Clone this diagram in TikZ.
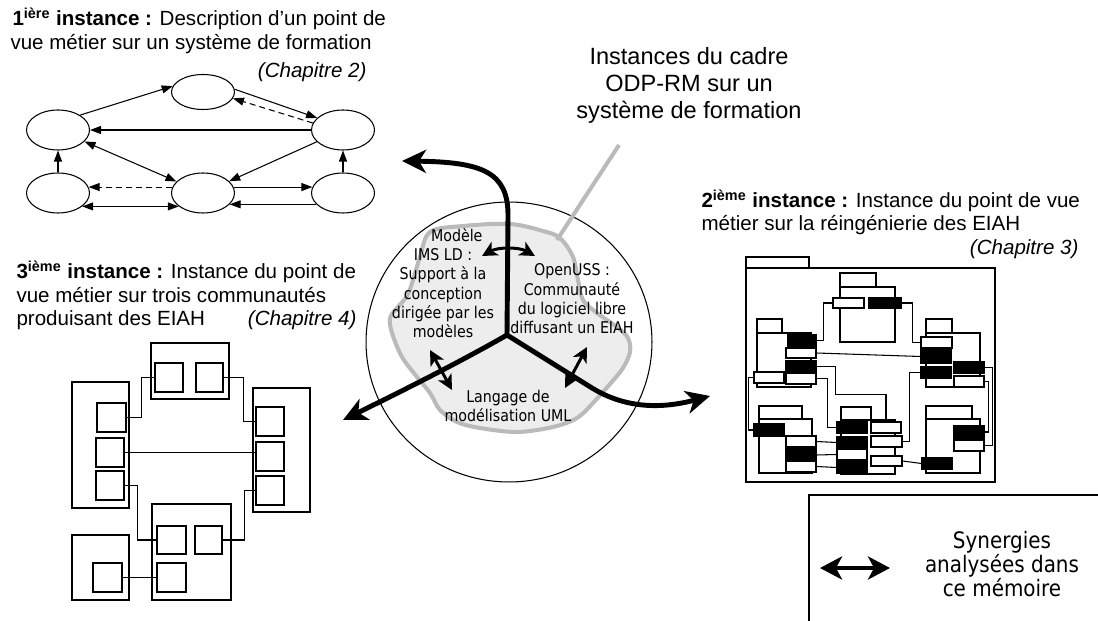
\documentclass[tikz,border=0pt]{standalone}
\usepackage{fontspec}
\setmainfont{Liberation Sans}
\newfontfamily\figodpfont[FakeStretch=0.88]{DejaVu Sans}
\usetikzlibrary{arrows.meta}
\usetikzlibrary{calc}
\usetikzlibrary{shapes.geometric, fit}

\begin{document}
\begin{tikzpicture}[x=0.02cm, y=-0.02cm, line width=0.6pt,
        titre/.style={inner sep=0pt, font=\fontsize{11.7}{13.6}\selectfont},
        grandtitre/.style={inner sep=0pt, font=\fontsize{13.4}{15.4}\selectfont},
        bulle/.style={inner sep=0pt, align=center, font=\figodpfont\fontsize{9.2}{11}\selectfont},
        legende/.style={inner sep=0pt, align=center, font=\figodpfont\fontsize{12.9}{13.8}\selectfont},
        etat/.style={draw, ellipse, inner sep=0pt, minimum width=1.26cm, minimum height=0.8cm},
        fleche/.style={-{Triangle[length=0.22cm, width=0.16cm]}},
        fleches/.style={{Triangle[length=0.22cm, width=0.16cm]}-{Triangle[length=0.22cm, width=0.16cm]}},
        tirets/.style={dash pattern=on 3.4pt off 2.3pt},
        branche/.style={line width=2.8pt, -{Stealth[length=0.48cm, width=0.46cm, inset=0.14cm]}},
        synergie/.style={line width=1.7pt, {Stealth[length=0.3cm, width=0.3cm, inset=0.08cm]}-{Stealth[length=0.3cm, width=0.3cm, inset=0.08cm]}},
        blanc/.style={fill=white},
        noir/.style={fill=black}]
        \newcommand{\figodpbox}[4][]{\node[draw, inner sep=0pt, fit={(#3) (#4)}, #1] (#2) {};}
        \useasboundingbox (0,0) rectangle (1098,621);
        \clip (0,0) rectangle (1098,621);

        % 1iere instance
        \node[titre, anchor=base west] (tunun) at (12,26) {\textbf{1\textsuperscript{ière} instance :} Description d’un point de};
        \node[titre, anchor=base west] (tundeux) at (10,50) {vue métier sur un système de formation};
        \node[titre, anchor=base east] (tunchap) at (367,78) {\itshape (Chapitre 2)};
        \node[etat, minimum height=0.7cm] (ehaut) at (203,92) {};
        \node[etat] (egauche) at (58,130) {};
        \node[etat] (edroite) at (343,130) {};
        \node[etat] (ebg) at (58,193) {};
        \node[etat] (ebm) at (203,193) {};
        \node[etat] (ebd) at (343,193) {};
        \draw[fleche] (egauche.34) -- (ehaut.169);
        \draw[fleche] (ehaut.5) -- (edroite.155);
        \draw[fleche, tirets] (edroite.167) -- (ehaut.-12);
        \draw[fleche] (edroite) -- (egauche);
        \draw[fleche] (edroite) -- (ebm);
        \draw[fleches] (egauche) -- (ebm);
        \draw[fleche] (ebg) -- (egauche);
        \draw[fleche] (ebd) -- (edroite);
        \draw[fleche, tirets] (ebm.169) -- (ebg.11);
        \draw[fleches] (ebg.-29) -- (ebm.-151);
        \draw[fleche] (ebm.11) -- (ebd.169);
        \draw[fleche] (ebd.-157) -- (ebm.-23);

        % 3ieme instance
        \node[titre, anchor=base west] (ttroisun) at (16,279) {\textbf{3\textsuperscript{ième} instance :} Instance du point de};
        \node[titre, anchor=base west] (ttroisdeux) at (16,303) {vue métier sur trois communautés};
        \node[titre, anchor=base west] (ttroistrois) at (16,326) {produisant des EIAH};
        \node[titre, anchor=base east] (ttroischap) at (357,326) {\itshape (Chapitre 4)};
        \figodpbox{cptop}{151,343}{229,399}
        \figodpbox{cpgauche}{72,382}{129,508}
        \figodpbox{cpdroite}{253,388}{310,512}
        \figodpbox{cpbas}{152,504}{231,600}
        \figodpbox{cpcoin}{72,535}{129,600}
        \figodpbox{T1}{155,363}{183,392}
        \figodpbox{T2}{196,363}{223,392}
        \figodpbox{L1}{97,403}{126,432}
        \figodpbox{L2}{96,438}{124,467}
        \figodpbox{L3}{96,471}{124,500}
        \figodpbox{R1}{256,407}{284,436}
        \figodpbox{R2}{256,442}{284,471}
        \figodpbox{R3}{256,476}{284,505}
        \figodpbox{B1}{157,526}{186,554}
        \figodpbox{B2}{195,526}{222,554}
        \figodpbox{B3}{157,563}{186,592}
        \figodpbox{K1}{93,563}{122,592}
        \draw (L1.east) -- ++(15,0) |- (T1.west);
        \draw (T2.east) -- ++(20,0) |- (R1.west);
        \draw (L2.east) -- (L2.east -| R2.west);
        \draw (L3.east) -- ++(13,0) |- (B1.west);
        \draw (B2.east) -- ++(22,0) |- (R3.west);
        \draw (K1.east) -- (B3.west);

        % cadre ODP-RM
        \node[grandtitre, anchor=base] (odpun) at (689,65) {Instances du cadre};
        \node[grandtitre, anchor=base] (odpdeux) at (689,92) {ODP-RM sur un};
        \node[grandtitre, anchor=base] (odptrois) at (689,119) {système de formation};
        \node[draw, ellipse, inner sep=0pt, minimum width=5.72cm, minimum height=5.6cm] (cercle) at (509,342) {};
        \filldraw[fill=black!7, draw=black!27, line width=2.3pt] plot[smooth cycle, tension=0.55] coordinates {
            (430,232) (463,226) (510,224) (543,231) (560,238) (573,257) (578,280) (583,300)
            (597,313) (617,327) (628,338) (630,352) (623,368) (610,384) (593,403) (577,418)
            (553,427) (517,432) (480,428) (457,422) (440,410) (430,393) (417,377) (402,357)
            (392,333) (390,318) (397,308) (407,296) (413,280) (420,257)};
        \coordinate (nuagebord) at (557,240);
        \coordinate (odpbas) at (619,145);
        \draw[black!27, line width=2.3pt] (nuagebord) -- (odpbas);
        \node[bulle] (imsld) at (443,283) {\hspace*{0.55cm}Modèle\\IMS LD :\\Support à la\\conception\\dirigée par les\\modèles};
        \node[bulle] (openuss) at (572,299) {OpenUSS :\\Communauté\\du logiciel libre\\diffusant un EIAH};
        \node[bulle] (uml) at (508,406) {Langage de\\modélisation UML};
        \coordinate (centre) at (507,335);
        \coordinate (versun) at (402,161);
        \coordinate (versdeux) at (710,396);
        \coordinate (verstrois) at (343,420);
        \draw[branche] (centre) -- (508,215) .. controls (508,172) and (482,162) .. (versun);
        \draw[branche] (centre) .. controls (460,362) and (400,392) .. (verstrois);
        \draw[branche] (centre) -- (592,388) .. controls (628,410) and (665,408) .. (versdeux);
        \coordinate (synhautg) at (482,256);
        \coordinate (synhautd) at (535,256);
        \coordinate (syngaucheh) at (430,350);
        \coordinate (syngaucheb) at (452,390);
        \coordinate (syndroiteh) at (587,347);
        \coordinate (syndroiteb) at (565,388);
        \draw[synergie] (synhautg) .. controls (498,247) and (519,247) .. (synhautd);
        \draw[synergie] (syngaucheh) -- (syngaucheb);
        \draw[synergie] (syndroiteh) -- (syndroiteb);

        % 2ieme instance
        \node[titre, anchor=base west] (tdeuxun) at (701,208) {\textbf{2\textsuperscript{ième} instance :} Instance du point de vue};
        \node[titre, anchor=base west] (tdeuxdeux) at (701,231) {métier sur la réingénierie des EIAH};
        \node[titre, anchor=base east] (tdeuxchap) at (1079,255) {\itshape (Chapitre 3)};
        \figodpbox{onglet}{746,257}{809,268}
        \figodpbox{paquet}{746,268}{995,482}
        \figodpbox{nomA}{840,273}{876,287}
        \figodpbox{corpsA}{840,287}{895,342}
        \figodpbox{nomB}{757,319}{782,333}
        \figodpbox{corpsB}{757,333}{811,387}
        \figodpbox{nomC}{926,319}{952,333}
        \figodpbox{corpsC}{926,333}{980,387}
        \figodpbox{nomD}{759,406}{802,419}
        \figodpbox{corpsD}{759,419}{812,473}
        \figodpbox{nomE}{841,407}{871,420}
        \figodpbox{corpsE}{841,420}{895,474}
        \figodpbox{nomF}{926,406}{972,419}
        \figodpbox{corpsF}{926,419}{980,473}
        \figodpbox[blanc]{Aw}{833,298}{864,308}
        \figodpbox[noir]{Ab}{869,298}{901,308}
        \figodpbox[noir]{Bb1}{788,335}{816,346}
        \figodpbox[blanc]{Bw1}{786,348}{816,358}
        \figodpbox[noir]{Bb2}{786,361}{816,372}
        \figodpbox[blanc]{Bw2}{754,372}{784,383}
        \figodpbox[blanc]{Bw3}{786,373}{816,384}
        \figodpbox[blanc]{Cw1}{921,337}{952,348}
        \figodpbox[noir]{Cb1}{921,350}{951,363}
        \figodpbox[noir]{Cb2}{921,367}{951,378}
        \figodpbox[noir]{Cb3}{954,362}{984,373}
        \figodpbox[blanc]{Cw2}{954,376}{984,387}
        \figodpbox[noir]{Db1}{754,424}{784,436}
        \figodpbox[blanc]{Dw1}{786,436}{816,447}
        \figodpbox[noir]{Db2}{786,449}{816,461}
        \figodpbox[blanc]{Dw2}{786,461}{816,472}
        \figodpbox[noir]{Eb1}{837,422}{867,433}
        \figodpbox[blanc]{Ew1}{871,422}{901,433}
        \figodpbox[noir]{Eb2}{837,437}{867,448}
        \figodpbox[blanc]{Ew2}{871,436}{902,447}
        \figodpbox[blanc]{Ew3}{837,449}{867,460}
        \figodpbox[noir]{Eb3}{837,462}{867,473}
        \figodpbox[blanc]{Ew4}{871,456}{902,466}
        \figodpbox[noir]{Fb1}{954,426}{984,438}
        \figodpbox[blanc]{Fw1}{954,440}{984,451}
        \figodpbox[noir]{Fb2}{922,458}{952,469}
        \draw (Bb1.east) -- ++(7,0) |- (Aw.west);
        \draw (Ab.east) -- ++(11,0) |- (Cw1.west);
        \draw (Bw1.east) -- (Cb1.west);
        \draw (Bb2.east) -- ++(19,0) -- ++(0,28) -| (Ew1.north);
        \draw (Bw3.east) -- ++(11,0) |- (Eb1.west);
        \draw (Bw2.west) -- ++(-5,0) |- (Db1.west);
        \draw (Cb2.west) -- ++(-11,0) |- (Ew2.east);
        \draw (Cb3.east) -- ++(8,0) |- (Fw1.east);
        \draw (Cw2.east) -- ++(4,0) |- (Fb1.east);
        \draw (Dw1.east) -- (Eb2.west);
        \draw (Db2.east) -- (Ew3.west);
        \draw (Dw2.east) -- (Eb3.west);
        \draw (Ew4.east) -- (Fb2.west);

        % legende
        \draw (809,495) rectangle (1110,650);
        \coordinate (legg) at (820,568);
        \coordinate (legd) at (890,568);
        \draw[line width=2.3pt, {Stealth[length=0.44cm, width=0.46cm, inset=0.12cm]}-{Stealth[length=0.44cm, width=0.46cm, inset=0.12cm]}] (legg) -- (legd);
        \node[legende] (legtexte) at (1002,564) {Synergies\\analysées dans\\ce mémoire};
    \end{tikzpicture}
\end{document}
